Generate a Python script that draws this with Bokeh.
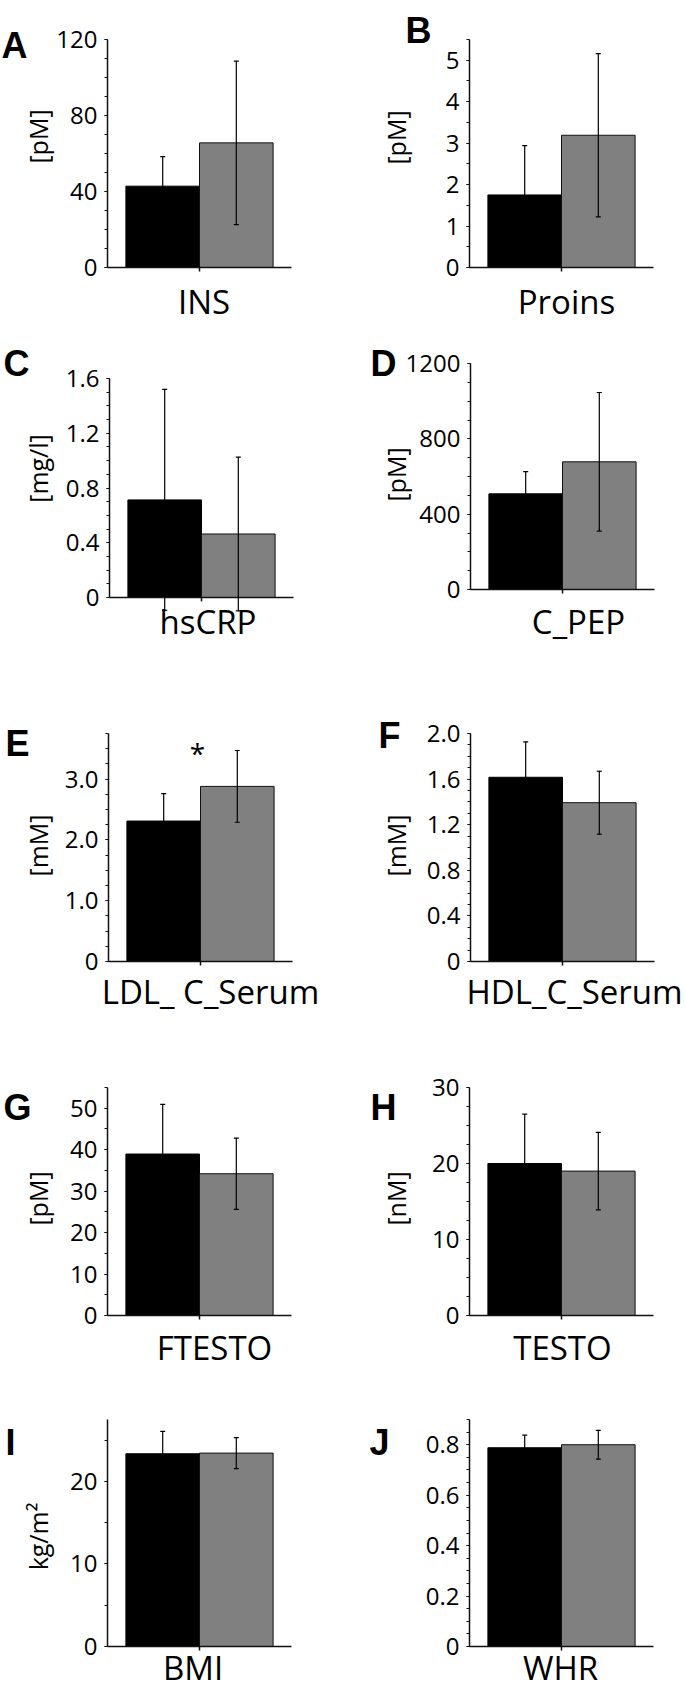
import numpy as np
from bokeh.plotting import figure
from bokeh.models import (Range1d, ColumnDataSource, Whisker, TeeHead, FixedTicker, Label,
                          LinearAxis)
from bokeh.transform import dodge
from bokeh.layouts import column, row
from bokeh.embed import file_html
from bokeh.resources import INLINE

# ---------------- data ----------------
names = ["INS", "Proins", "hsCRP", "C_PEP", "LDL_ C_Serum", "HDL_C_Serum",
         "FTESTO", "TESTO", "BMI", "WHR"]
letters = ["A", "B", "C", "D", "E", "F", "G", "H", "I", "J"]
units = ["[pM]", "[pM]", "[mg/l]", "[pM]", "[mM]", "[mM]", "[pM]", "[nM]", "kg/m\u00b2", ""]
black_mean = [42.8, 1.75, 0.713, 508, 2.31, 1.616, 38.95, 20.0, 23.35, 0.788]
black_err = [15.6, 1.19, 0.807, 118, 0.45, 0.311, 12.0, 6.5, 2.7, 0.05]
gray_mean = [65.6, 3.19, 0.464, 678, 2.88, 1.393, 34.2, 19.0, 23.43, 0.80]
gray_err = [43.0, 1.97, 0.562, 368, 0.59, 0.276, 8.6, 5.1, 1.87, 0.057]
y_max = [120, 5.5, 1.6, 1200, 3.75, 2.0, 55, 30, 27.5, 0.9]
major_ticks = [[0, 40, 80, 120], [0, 1, 2, 3, 4, 5], [0, 0.4, 0.8, 1.2, 1.6],
               [0, 400, 800, 1200], [0, 1, 2, 3], [0, 0.4, 0.8, 1.2, 1.6, 2],
               [0, 10, 20, 30, 40, 50], [0, 10, 20, 30], [0, 10, 20],
               [0, 0.2, 0.4, 0.6, 0.8]]
tick_labels = [["0", "40", "80", "120"], ["0", "1", "2", "3", "4", "5"],
               ["0", "0.4", "0.8", "1.2", "1.6"], ["0", "400", "800", "1200"],
               ["0", "1.0", "2.0", "3.0"], ["0", "0.4", "0.8", "1.2", "1.6", "2.0"],
               ["0", "10", "20", "30", "40", "50"], ["0", "10", "20", "30"],
               ["0", "10", "20"], ["0", "0.2", "0.4", "0.6", "0.8"]]
minor_step = [10, 0.5, 0.1, 100, 0.25, 0.1, 5, 2.5, 5, 0.05]
star_text = "*"

# ---------------- layout geometry (page pixels) ----------------
FONT = "Open Sans"
W_FRAME = 184          # pixel width of one category band (axis length)
frames = [(107, 39, 267), (469, 39, 267), (109, 378, 597), (470, 363, 589),
          (108, 733, 961), (470, 733, 961), (107, 1087, 1315), (469, 1087, 1315),
          (107, 1419, 1646), (469, 1419, 1646)]
col_x = [(0, 342), (342, 343)]
row_tops = [0, 335, 660, 1030, 1385]
row_bots = [335, 660, 1030, 1385, 1685]
letter_pos = [(1, 45), (405, 30), (3, 363), (370, 363), (5, 743), (378, 735),
              (3, 1107), (370, 1107), (5, 1442), (369, 1442)]
ytitle_pos = [(37.5, 136), (395, 137), (37.5, 468), (395, 474), (37.5, 845),
              (395, 845), (37.5, 1198), (395, 1198), (37.5, 1536), None]
xlab_center = [203.5, 566, 207.5, 578, 210, 574, 214, 562, 192.5, 560]
xlab_standoff = [7, 7, -3, 5, 3, 3, 5, 5, -6, -6]
star_pos = (197, 752)


def key(t):
    return int(round(t)) if abs(t - round(t)) < 1e-9 else t


figs = []
for i in range(10):
    r, c = divmod(i, 2)
    L, T, B = frames[i]
    x0, fw = col_x[c]
    top, bot = row_tops[r], row_bots[r]
    fh = bot - top
    ymax = y_max[i]

    def dx(px):
        return (px - L) / W_FRAME - 0.5

    def dy(py):
        return (B - py) / (B - T) * ymax

    p = figure(width=fw, height=fh, x_range=Range1d(dx(x0), dx(x0 + fw)),
               y_range=Range1d(dy(bot), dy(top)), output_backend="svg",
               toolbar_location=None, min_border=0)
    p.title.visible = False
    p.outline_line_color = None
    p.xgrid.visible = False
    p.ygrid.visible = False
    p.background_fill_color = "white"
    p.border_fill_color = "white"

    src = ColumnDataSource(dict(
        pos=[0], black=[black_mean[i]], gray=[gray_mean[i]],
        b_up=[black_mean[i] + black_err[i]], b_lo=[black_mean[i] - black_err[i]],
        g_up=[gray_mean[i] + gray_err[i]], g_lo=[gray_mean[i] - gray_err[i]]))

    p.vbar(x=dodge("pos", -0.2), top="black", width=0.4, source=src,
           fill_color="#000000", line_color="#000000", line_width=1)
    p.vbar(x=dodge("pos", 0.2), top="gray", width=0.4, source=src,
           fill_color="#808080", line_color="#111111", line_width=1)

    for off, up, lo in [(-0.2, "b_up", "b_lo"), (0.2, "g_up", "g_lo")]:
        w = Whisker(base=dodge("pos", off), upper=up, lower=lo,
                    source=src, dimension="height", line_color="black", line_width=1.2,
                    upper_head=TeeHead(size=5, line_color="black", line_width=1.2),
                    lower_head=TeeHead(size=5, line_color="black", line_width=1.2),
                    level="overlay")
        p.add_layout(w)

    # y axis, pinned to the left edge of the category band
    majors = [key(t) for t in major_ticks[i]]
    nmin = int(np.floor(ymax / minor_step[i] + 1e-9))
    minors = [key(round(k * minor_step[i], 6)) for k in range(nmin + 1)]
    ya = p.yaxis[0]
    ya.fixed_location = -0.5
    ya.bounds = (0, ymax)
    ya.ticker = FixedTicker(ticks=majors, minor_ticks=minors)
    ya.major_label_overrides = {t: s for t, s in zip(majors, tick_labels[i])}
    ya.axis_line_width = 1.5
    ya.axis_line_color = "#111111"
    ya.major_tick_in = 0
    ya.major_tick_out = 3
    ya.minor_tick_in = 0
    ya.minor_tick_out = 3
    ya.major_tick_line_color = "#111111"
    ya.minor_tick_line_color = "#111111"
    ya.major_tick_line_width = 1
    ya.minor_tick_line_width = 1
    ya.major_label_standoff = 7
    ya.major_label_text_font = FONT
    ya.major_label_text_font_size = "24px"
    ya.major_label_text_color = "black"

    # x axis line pinned at y = 0 with the tick at the category centre
    xa = p.xaxis[0]
    xa.fixed_location = 0
    xa.bounds = (-0.5, 0.5)
    xa.ticker = FixedTicker(ticks=[0], minor_ticks=[])
    xa.axis_line_width = 1.5
    xa.axis_line_color = "#111111"
    xa.major_tick_in = 0
    xa.major_tick_out = 4
    xa.major_tick_line_width = 1.5
    xa.major_tick_line_color = "#111111"
    xa.minor_tick_in = 0
    xa.minor_tick_out = 0
    xa.major_label_text_color = None

    # category name as the tick label of a second (line-less) x axis
    lt = round(dx(xlab_center[i]), 4)
    name_ax = LinearAxis(fixed_location=0,
                         ticker=FixedTicker(ticks=[lt], minor_ticks=[]),
                         major_label_overrides={lt: names[i]},
                         axis_line_color=None, major_tick_line_color=None,
                         minor_tick_line_color=None, major_tick_in=0, major_tick_out=4,
                         minor_tick_in=0, minor_tick_out=0,
                         major_label_standoff=xlab_standoff[i],
                         major_label_text_font=FONT, major_label_text_font_size="33px",
                         major_label_text_color="black")
    p.add_layout(name_ax, "below")

    lx, ly = letter_pos[i]
    p.add_layout(Label(x=dx(lx), y=dy(ly), text=letters[i], text_align="left",
                       text_baseline="alphabetic", text_font="Liberation Sans",
                       text_font_style="bold", text_font_size="36px", text_color="black"))
    if ytitle_pos[i] is not None:
        tx, ty = ytitle_pos[i]
        p.add_layout(Label(x=dx(tx), y=dy(ty), text=units[i], angle=np.pi / 2,
                           text_align="center", text_baseline="middle", text_font=FONT,
                           text_font_size="25px", text_color="black"))
    if i == 4:
        sx, sy = star_pos
        p.add_layout(Label(x=dx(sx), y=dy(sy), text=star_text, text_align="center",
                           text_baseline="middle", text_font=FONT,
                           text_font_size="28px", text_color="black"))
    figs.append(p)

layout = column(*[row(figs[2 * r], figs[2 * r + 1]) for r in range(5)])
open("out.html", "w").write(file_html(layout, INLINE))
